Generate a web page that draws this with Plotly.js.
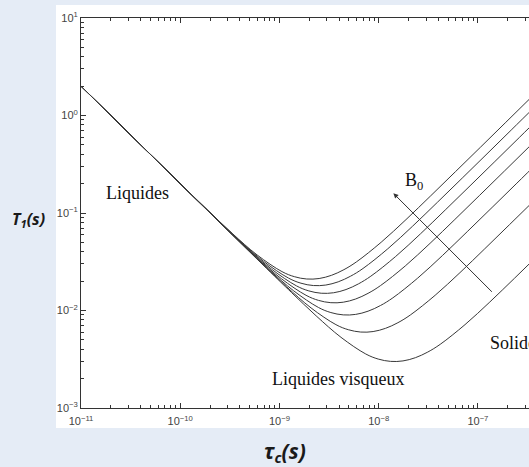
<!DOCTYPE html>
<html><head><meta charset="utf-8">
<script src="https://cdn.plot.ly/plotly-3.0.1.min.js"></script>
<style>html,body{margin:0;padding:0;background:#e5ecf6;}#chart{width:529px;height:467px;}</style>
</head><body><div id="chart"></div>
<script>
// log10(tau_c [s]) and log10(T1 [s]), one pair of arrays per field strength
const logTau1 = [-11, -9.13, -8.88, -8.63, -8.38, -8.13, -8.005, -7.88, -7.755, -7.63, -7.505, -7.38, -7.13, -6.88, -6.63, -6.38, -6.13];
const logT1_1 = [0.301, -1.568, -1.814, -2.055, -2.275, -2.446, -2.498, -2.522, -2.517, -2.484, -2.426, -2.347, -2.145, -1.913, -1.668, -1.420, -1.171];

const logTau2 = [-11, -9.431, -9.181, -8.931, -8.681, -8.431, -8.306, -8.181, -8.056, -7.931, -7.806, -7.681, -7.431, -7.181, -6.931, -6.681, -6.431, -6.181];
const logT1_2 = [0.301, -1.267, -1.513, -1.754, -1.974, -2.145, -2.197, -2.221, -2.216, -2.183, -2.125, -2.046, -1.844, -1.612, -1.367, -1.119, -0.870, -0.620];

const logTau3 = [-11, -9.607, -9.357, -9.107, -8.857, -8.607, -8.482, -8.357, -8.232, -8.107, -7.982, -7.857, -7.607, -7.357, -7.107, -6.857, -6.607, -6.357];
const logT1_3 = [0.301, -1.091, -1.337, -1.578, -1.798, -1.969, -2.021, -2.045, -2.040, -2.007, -1.949, -1.870, -1.668, -1.436, -1.191, -0.943, -0.694, -0.444];

const logTau4 = [-11, -9.732, -9.482, -9.232, -8.982, -8.732, -8.607, -8.482, -8.357, -8.232, -8.107, -7.982, -7.732, -7.482, -7.232, -6.982, -6.732, -6.482, -6.232];
const logT1_4 = [0.301, -0.966, -1.212, -1.453, -1.673, -1.844, -1.896, -1.920, -1.915, -1.882, -1.824, -1.745, -1.543, -1.311, -1.066, -0.818, -0.569, -0.319, -0.069];

const logTau5 = [-11, -9.829, -9.579, -9.329, -9.079, -8.829, -8.704, -8.579, -8.454, -8.329, -8.204, -8.079, -7.829, -7.579, -7.329, -7.079, -6.829, -6.579, -6.329];
const logT1_5 = [0.301, -0.869, -1.115, -1.356, -1.576, -1.747, -1.799, -1.823, -1.818, -1.785, -1.727, -1.648, -1.446, -1.214, -0.969, -0.721, -0.472, -0.222, 0.028];

const logTau6 = [-11, -9.908, -9.658, -9.408, -9.158, -8.908, -8.783, -8.658, -8.533, -8.408, -8.283, -8.158, -7.908, -7.658, -7.408, -7.158, -6.908, -6.658, -6.408];
const logT1_6 = [0.301, -0.790, -1.036, -1.277, -1.497, -1.668, -1.720, -1.744, -1.739, -1.706, -1.648, -1.569, -1.367, -1.135, -0.890, -0.642, -0.393, -0.143, 0.107];

const logTau7 = [-11, -9.975, -9.725, -9.475, -9.225, -8.975, -8.85, -8.725, -8.6, -8.475, -8.35, -8.225, -7.975, -7.725, -7.475, -7.225, -6.975, -6.725, -6.475, -6.225];
const logT1_7 = [0.301, -0.723, -0.969, -1.210, -1.430, -1.601, -1.653, -1.677, -1.672, -1.639, -1.581, -1.502, -1.300, -1.068, -0.823, -0.575, -0.326, -0.076, 0.174, 0.424];

const curves = [[logTau1, logT1_1], [logTau2, logT1_2], [logTau3, logT1_3], [logTau4, logT1_4],
                [logTau5, logT1_5], [logTau6, logT1_6], [logTau7, logT1_7]];

// tick labels
const xTickExp = [-11, -10, -9, -8, -7];
const xTickText = ["10<sup>−11</sup>", "10<sup>−10</sup>", "10<sup>−9</sup>", "10<sup>−8</sup>", "10<sup>−7</sup>"];
const yTickExp = [-3, -2, -1, 0, 1];
const yTickText = ["10<sup>−3</sup>", "10<sup>−2</sup>", "10<sup>−1</sup>", "10<sup>0</sup>", "10<sup>1</sup>"];

const regionLabels = ["Liquides", "Liquides visqueux", "Solide"];
const fieldLabel = "B<sub>0</sub>";
const xTitle = "τ<sub>c</sub>(s)";
const yTitle = "T<sub>1</sub>(s)";

const traces = curves.map(c => ({
  x: c[0].map(v => Math.pow(10, v)),
  y: c[1].map(v => Math.pow(10, v)),
  mode: 'lines',
  line: {color: '#383838', width: 1, shape: 'spline', smoothing: 1},
  hoverinfo: 'skip',
  showlegend: false
}));

const axisCommon = {
  type: 'log', tickmode: 'array',
  ticks: 'inside', ticklen: 5, tickwidth: 1, tickcolor: '#333',
  showline: true, linecolor: '#333', linewidth: 1,
  showgrid: false, zeroline: false,
  tickfont: {family: 'Liberation Sans, Arial, sans-serif', size: 11, color: '#444'},
  minor: {tickmode: 'linear', dtick: 'D1', ticks: 'inside', ticklen: 3, tickwidth: 1, tickcolor: '#333', showgrid: false}
};

const serif = {family: 'Liberation Serif, Times New Roman, serif', size: 18, color: '#111'};
const titleFont = {family: 'Open Sans, sans-serif', color: '#1a1a1a', weight: 'bold', style: 'italic'};

const layout = {
  width: 529, height: 467,
  margin: {l: 81, r: 0, t: 18, b: 59, pad: 0},
  paper_bgcolor: '#e5ecf6', plot_bgcolor: '#ffffff',
  showlegend: false,
  xaxis: Object.assign({}, axisCommon, {range: [-11, -6.485], mirror: 'ticks', ticklabelstandoff: 3,
    tickvals: xTickExp.map(e => Math.pow(10, e)), ticktext: xTickText}),
  yaxis: Object.assign({}, axisCommon, {range: [-3, 1], mirror: false,
    tickvals: yTickExp.map(e => Math.pow(10, e)), ticktext: yTickText}),
  shapes: [{type: 'rect', xref: 'paper', yref: 'paper', x0: -0.0558, x1: 1.0, y0: -0.0513, y1: 1.0333,
            fillcolor: '#ffffff', line: {width: 0}, layer: 'below'}],
  annotations: [
    {x: -10.43, y: -0.79, xref: 'x', yref: 'y', text: regionLabels[0], showarrow: false, font: serif, xanchor: 'center', yanchor: 'middle'},
    {x: -8.409, y: -2.70, xref: 'x', yref: 'y', text: regionLabels[1], showarrow: false, font: serif, xanchor: 'center', yanchor: 'middle'},
    {x: -6.894, y: -2.33, xref: 'x', yref: 'y', text: regionLabels[2], showarrow: false, font: serif, xanchor: 'left', yanchor: 'middle'},
    {x: -7.757, y: -0.68, xref: 'x', yref: 'y', text: fieldLabel, showarrow: false, font: serif, xanchor: 'left', yanchor: 'middle'},
    {x: -7.852, y: -0.798, xref: 'x', yref: 'y', text: '', showarrow: true, ax: 100, ay: 100,
     arrowhead: 2, arrowsize: 1, arrowwidth: 1, arrowcolor: '#333'},
    {x: -0.1183, y: 0.4846, xref: 'paper', yref: 'paper', text: yTitle, showarrow: false,
     font: Object.assign({size: 16}, titleFont), xanchor: 'center', yanchor: 'middle'},
    {x: 0.4554, y: -0.112, xref: 'paper', yref: 'paper', text: xTitle, showarrow: false,
     font: Object.assign({size: 21}, titleFont), xanchor: 'center', yanchor: 'middle'}
  ]
};

Plotly.newPlot('chart', traces, layout, {displayModeBar: false, staticPlot: true});
</script></body></html>
